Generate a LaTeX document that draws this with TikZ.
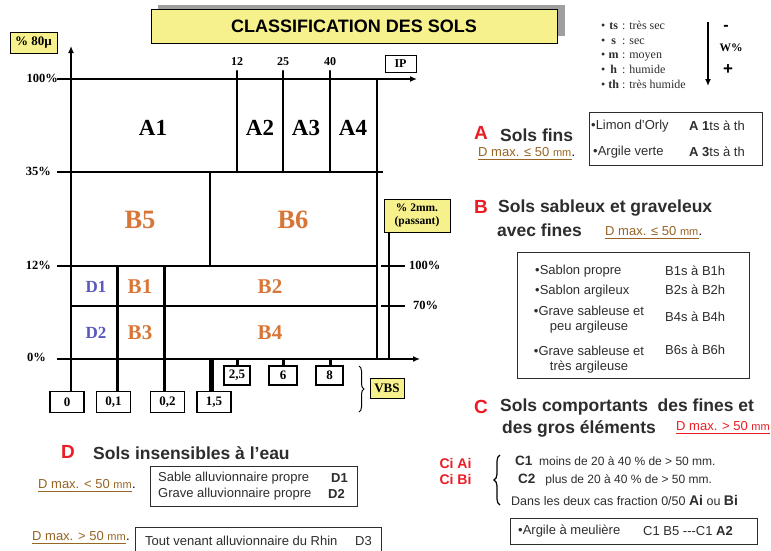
\documentclass[tikz,border=0pt]{standalone}
\usepackage{fontspec}
\setmainfont{Liberation Serif}
\setsansfont{Liberation Sans}
\usepackage{tikz}
\usetikzlibrary{arrows.meta,positioning,calc,decorations.pathreplacing}

\definecolor{jaune}{RGB}{246,241,140}
\definecolor{orangeB}{RGB}{216,118,56}
\definecolor{bleuD}{RGB}{88,88,190}
\definecolor{brun}{RGB}{150,100,35}
\definecolor{rouge}{RGB}{236,28,36}
\definecolor{texte}{RGB}{45,45,45}

\tikzset{
	grille/.style={line width=2.2pt},
	axe/.style={line width=2.2pt,-{Latex[length=7pt,width=6pt]}},
	zone/.style={font=\bfseries\fontsize{23}{23}\selectfont},
	zoneB/.style={zone,text=orangeB},
	zoneD/.style={font=\bfseries\fontsize{17}{17}\selectfont,text=bleuD},
	pct/.style={font=\bfseries\fontsize{12.5}{12.5}\selectfont,anchor=east,inner sep=1pt},
	valbox/.style={draw,line width=1.6pt,fill=white,inner sep=0pt,font=\bfseries\fontsize{13}{13}\selectfont},
	etiq/.style={draw,line width=1pt,fill=jaune,inner sep=0pt,align=center},
	lettre/.style={text=rouge,font=\sffamily\bfseries\fontsize{19}{19}\selectfont},
	titre/.style={anchor=west,text=texte,font=\sffamily\bfseries\fontsize{17.5}{22}\selectfont,align=left,inner sep=0pt},
	cadre/.style={draw=texte,line width=1pt},
	ligne/.style={anchor=west,text=texte,font=\sffamily\fontsize{13}{15}\selectfont,inner sep=0pt},
	dmax/.style={anchor=west,inner sep=0pt,text=brun,font=\sffamily\fontsize{13}{13}\selectfont},
	point/.style={anchor=base west,inner sep=0pt,font=\sffamily\fontsize{13}{13}\selectfont}
}
\newcommand{\mm}{{\fontsize{11}{11}\selectfont mm}}

\begin{document}
\begin{tikzpicture}[x=1pt,y=-1pt]
	\useasboundingbox[fill=white] (0,0) rectangle (771,550);

	% titre
	\fill[gray!75] (158,5) rectangle (565,36);
	\node[draw,line width=1pt,fill=jaune,minimum width=406pt,minimum height=34pt,inner sep=0pt,
		font=\sffamily\bfseries\fontsize{18}{18}\selectfont] (titre) at (354,26) {CLASSIFICATION DES SOLS};

	% axes
	\coordinate (origine) at (71,359);
	\draw[axe] (71,392) -- (71,46);
	\draw[axe] (57,79) -- (417,79);
	\draw[axe] (57,359) -- (420,359);
	\node[etiq,minimum width=47pt,minimum height=21pt,font=\bfseries\fontsize{13}{13}\selectfont] (p80) at (33.5,42.5) {\% 80µ};
	\node[draw,line width=1pt,fill=white,minimum width=31pt,minimum height=17pt,inner sep=0pt,font=\bfseries\fontsize{12}{12}\selectfont] (ip) at (400.5,63.5) {IP};

	% grille
	\draw[grille] (57,172) -- (383,172);
	\draw[grille] (57,266) -- (377,266);
	\draw[grille] (71,306) -- (377,306);
	\draw[grille] (377,79) -- (377,359);
	\draw[grille] (210,172) -- (210,266);
	\foreach \x/\v in {237/12,283/25,330/40} {
		\draw[grille,line cap=round] (\x,71) -- (\x,172);
		\node[font=\bfseries\fontsize{12}{12}\selectfont] (ip\v) at (\x,62) {\v};
	}
	\node[pct] (p100) at (59,78) {100\%};
	\node[pct] (p35) at (52,171) {35\%};
	\node[pct] (p12) at (52,265) {12\%};
	\node[pct] (p0) at (47,357) {0\%};

	% classes
	\node[zone] (A1) at (153,128) {A1};
	\node[zone] (A2) at (260,128) {A2};
	\node[zone] (A3) at (306,128) {A3};
	\node[zone] (A4) at (353,128) {A4};
	\node[zoneB,font=\bfseries\fontsize{26.5}{26.5}\selectfont] (B5) at (140,220) {B5};
	\node[zoneB,font=\bfseries\fontsize{26.5}{26.5}\selectfont] (B6) at (293,220) {B6};
	\node[zoneD] (D1) at (96,287) {D1};
	\node[zoneB,font=\bfseries\fontsize{21}{21}\selectfont] (B1) at (140,287) {B1};
	\node[zoneB,font=\bfseries\fontsize{21}{21}\selectfont] (B2) at (270,287) {B2};
	\node[zoneD] (D2) at (96,333) {D2};
	\node[zoneB,font=\bfseries\fontsize{21}{21}\selectfont] (B3) at (140,333) {B3};
	\node[zoneB,font=\bfseries\fontsize{21}{21}\selectfont] (B4) at (270,333) {B4};

	% tamis
	\node[valbox,minimum width=34pt,minimum height=21pt] (t0) at (67,402) {0};
	\node[valbox,minimum width=34pt,minimum height=21pt] (t01) at (113.5,402) {0,1};
	\node[valbox,minimum width=34pt,minimum height=21pt] (t02) at (167.5,402) {0,2};
	\node[valbox,minimum width=34pt,minimum height=21pt] (t15) at (214,402) {1,5};
	\node[valbox,minimum width=26pt,minimum height=19pt] (t25) at (237,375.5) {2,5};
	\node[valbox,minimum width=28pt,minimum height=19pt] (t6) at (283,375.5) {6};
	\node[valbox,minimum width=27pt,minimum height=19pt] (t8) at (329.5,375.5) {8};
	\draw[line width=3pt] (117,266) -- (t01.north -| 117,0);
	\draw[line width=3pt] (164,266) -- (t02.north -| 164,0);
	\draw[line width=5pt] (211,359) -- (t15.north -| 211,0);
	\foreach \x/\t in {237/t25,283/t6,330/t8}
		\draw[line width=3pt] (\x,359) -- (\t.north -| \x,0);
	\draw[decorate,decoration={brace,amplitude=5pt},line width=1pt] (359,366) -- (359,412);
	\node[etiq,minimum width=34pt,minimum height=20pt,font=\bfseries\fontsize{13}{13}\selectfont] (vbs) at (387,388) {VBS};

	% passant a 2 mm
	\node[etiq,minimum width=66pt,minimum height=33pt,font=\bfseries\fontsize{11.5}{12.5}\selectfont] (p2mm) at (417,215.5) {\% 2mm.\\(passant)};
	\draw[grille] (389,359) -- (p2mm.south -| 389,0);
	\draw[grille] (381,266) -- (405,266);
	\draw[grille] (381,306) -- (405,306);
	\node[font=\bfseries\fontsize{12.5}{12.5}\selectfont,anchor=west,inner sep=0pt] (q100) at (409,265) {100\%};
	\node[font=\bfseries\fontsize{12.5}{12.5}\selectfont,anchor=west,inner sep=0pt] (q70) at (413,305) {70\%};

	% legende teneur en eau
	\node[anchor=north west,inner sep=0pt,text=texte,font=\fontsize{12}{14.7}\selectfont] (legende) at (601,19)
		{\begin{tabular}{@{}l@{\ }c@{ : }l@{}}
			•&\textbf{ts}&très sec\\
			•&\textbf{s}&sec\\
			•&\textbf{m}&moyen\\
			•&\textbf{h}&humide\\
			•&\textbf{th}&très humide
		\end{tabular}};
	\draw[line width=1.6pt,-{Latex[length=7pt,width=6pt]}] (708,22) -- (708,86);
	\node[font=\sffamily\bfseries\fontsize{16}{16}\selectfont] (moins) at (726,28) {-};
	\node[font=\bfseries\fontsize{11.5}{11.5}\selectfont] (wpct) at (731,48) {W\%};
	\node[font=\sffamily\bfseries\fontsize{17}{17}\selectfont] (plus) at (728,70) {+};

	% A
	\node[lettre] (A) at (481,133) {A};
	\node[titre] (Atxt) at (500,135) {Sols fins};
	\node[dmax] (Amax) at (478,152) {D max. ≤ 50 \mm};
	\node[point] at (Amax.base east) {.};
	\fill[brun] ($(Amax.base west)+(0,2.2)$) rectangle ($(Amax.base east)+(0,3.7)$);
	\draw[cadre] (589,112) rectangle (762,165);
	\node[ligne] (a1) at (591,126) {•Limon d'Orly};
	\node[ligne] (a1c) at (689,126) {\textbf{A 1}ts à th};
	\node[ligne] (a3) at (593,152) {•Argile verte};
	\node[ligne] (a3c) at (689,152) {\textbf{A 3}ts à th};

	% B
	\node[lettre] (B) at (481,207) {B};
	\node[titre] (Btxt) at (498,208) {Sols sableux et graveleux};
	\node[titre] (Btxt2) at (497,230) {avec fines};
	\node[dmax] (Bmax) at (605,231) {D max. ≤ 50 \mm};
	\node[point] at (Bmax.base east) {.};
	\fill[brun] ($(Bmax.base west)+(0,2.2)$) rectangle ($(Bmax.base east)+(0,3.7)$);
	\draw[cadre] (517,252) rectangle (749,378);
	\node[ligne] (b1) at (535,271) {•Sablon propre};
	\node[ligne] (b1c) at (665,271) {B1s à B1h};
	\node[ligne] (b2) at (535,291) {•Sablon argileux};
	\node[ligne] (b2c) at (665,290) {B2s à B2h};
	\node[ligne,anchor=center,align=center] (b4) at (589,319.5) {•Grave sableuse et\\peu argileuse};
	\node[ligne] (b4c) at (665,317) {B4s à B4h};
	\node[ligne,anchor=center,align=center] (b6) at (589,359.5) {•Grave sableuse et\\très argileuse};
	\node[ligne] (b6c) at (665,350) {B6s à B6h};

	% C
	\node[lettre] (C) at (481,407) {C};
	\node[titre] (Ctxt) at (500,407) {Sols comportants\ \ des fines et};
	\node[titre] (Ctxt2) at (502,429) {des gros éléments};
	\node[dmax,text=rouge] (Cmax) at (676,426) {D max. > 50 \mm};
	\fill[rouge] ($(Cmax.base west)+(0,2.2)$) rectangle ($(Cmax.base east)+(0,3.7)$);
	\node[text=rouge,font=\sffamily\bfseries\fontsize{14}{14}\selectfont,align=center,inner sep=0pt] (ci) at (455.5,471.5) {Ci Ai\\[2pt]Ci Bi};
	\draw[decorate,decoration={brace,amplitude=6pt},line width=1.2pt] (500,505) -- (500,455);
	\node[ligne,font=\sffamily\fontsize{12}{12}\selectfont] (c1) at (515,461) {\textbf{\fontsize{13.5}{13.5}\selectfont C1}\ \ moins de 20 à 40 \% de > 50 mm.};
	\node[ligne,font=\sffamily\fontsize{12}{12}\selectfont] (c2) at (518,480) {\textbf{\fontsize{13.5}{13.5}\selectfont C2}\ \ \ plus de 20 à 40 \% de > 50 mm.};
	\node[ligne,font=\sffamily\fontsize{12.5}{12.5}\selectfont] (c3) at (511,500) {Dans les deux cas fraction 0/50 \textbf{\fontsize{14}{14}\selectfont Ai} ou \textbf{\fontsize{14}{14}\selectfont Bi}};
	\draw[cadre] (510,518) rectangle (757,544);
	\node[ligne] (cm) at (518,531) {•Argile à meulière};
	\node[ligne] (cmc) at (643,531) {C1 B5 -{}-{}-C1 \textbf{A2}};

	% D
	\node[lettre] (D) at (68,452) {D};
	\node[titre] (Dtxt) at (93,453) {Sols insensibles à l’eau};
	\node[dmax] (Dmax1) at (38,484) {D max. < 50 \mm};
	\node[point] at (Dmax1.base east) {.};
	\fill[brun] ($(Dmax1.base west)+(0,2.2)$) rectangle ($(Dmax1.base east)+(0,3.7)$);
	\draw[cadre] (150,466) rectangle (357,506);
	\node[ligne] (d1) at (158,478) {Sable alluvionnaire propre};
	\node[ligne] (d1c) at (331,478) {\textbf{D1}};
	\node[ligne] (d2) at (158,494) {Grave alluvionnaire propre};
	\node[ligne] (d2c) at (328,494) {\textbf{D2}};
	\node[dmax] (Dmax2) at (32,536) {D max. > 50 \mm};
	\node[point] at (Dmax2.base east) {.};
	\fill[brun] ($(Dmax2.base west)+(0,2.2)$) rectangle ($(Dmax2.base east)+(0,3.7)$);
	\draw[cadre] (135,527) rectangle (381,556);
	\node[ligne] (d3) at (145,541) {Tout venant alluvionnaire du Rhin};
	\node[ligne] (d3c) at (355,541) {D3};
\end{tikzpicture}
\end{document}
